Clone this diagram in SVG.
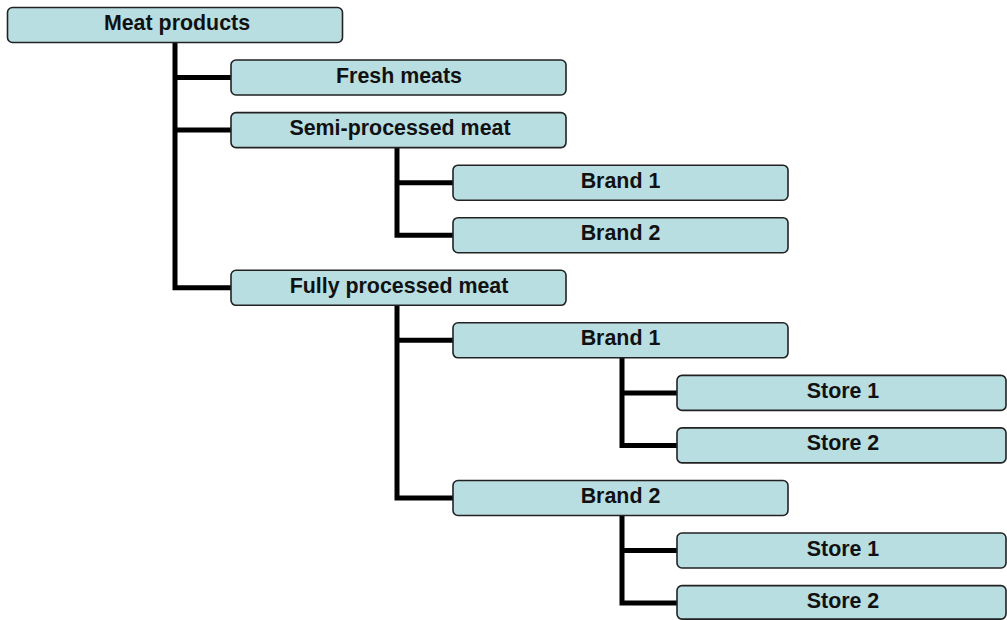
<svg xmlns="http://www.w3.org/2000/svg" width="1007" height="620" viewBox="0 0 1007 620">
<style>
.box{fill:#b8dee2;stroke:#222;stroke-width:1.6}
.lbl{font-family:"Liberation Sans",Arial,sans-serif;font-weight:bold;font-size:21.4px;fill:#111;text-anchor:middle}
.conn{fill:none;stroke:#000;stroke-width:5;stroke-linejoin:miter;stroke-linecap:butt}
</style>
<rect width="1007" height="620" fill="#fff"/>
<g id="connectors">
<path class="conn" d="M175,43 V287.8 H231 M175,77.5 H231 M175,130.1 H231"/>
<path class="conn" d="M397,148 V235.2 H453 M397,182.7 H453"/>
<path class="conn" d="M397,305.5 V498 H453 M397,340.3 H453"/>
<path class="conn" d="M622,358 V445.4 H677 M622,392.9 H677"/>
<path class="conn" d="M622,516 V603 H677 M622,550.5 H677"/>
</g>
<g id="n0"><rect class="box" x="7.5" y="7.5" width="335" height="35" rx="5"/><text class="lbl" x="177" y="30">Meat products</text></g>
<g id="n1"><rect class="box" x="231" y="60" width="335" height="35" rx="5"/><text class="lbl" x="399" y="82.5">Fresh meats</text></g>
<g id="n2"><rect class="box" x="231" y="112.6" width="335" height="35" rx="5"/><text class="lbl" x="400" y="135.1">Semi-processed meat</text></g>
<g id="n3"><rect class="box" x="453" y="165.2" width="335" height="35" rx="5"/><text class="lbl" x="620.5" y="187.7">Brand 1</text></g>
<g id="n4"><rect class="box" x="453" y="217.7" width="335" height="35" rx="5"/><text class="lbl" x="620.5" y="240.2">Brand 2</text></g>
<g id="n5"><rect class="box" x="231" y="270.3" width="335" height="35" rx="5"/><text class="lbl" x="399" y="292.8">Fully processed meat</text></g>
<g id="n6"><rect class="box" x="453" y="322.8" width="335" height="35" rx="5"/><text class="lbl" x="620.5" y="345.3">Brand 1</text></g>
<g id="n7"><rect class="box" x="677" y="375.4" width="329" height="35" rx="5"/><text class="lbl" x="843" y="397.9">Store 1</text></g>
<g id="n8"><rect class="box" x="677" y="427.9" width="329" height="35" rx="5"/><text class="lbl" x="843" y="450.4">Store 2</text></g>
<g id="n9"><rect class="box" x="453" y="480.5" width="335" height="35" rx="5"/><text class="lbl" x="620.5" y="503">Brand 2</text></g>
<g id="n10"><rect class="box" x="677" y="533" width="329" height="35" rx="5"/><text class="lbl" x="843" y="555.5">Store 1</text></g>
<g id="n11"><rect class="box" x="677" y="585.6" width="329" height="33.5" rx="5"/><text class="lbl" x="843" y="608.1">Store 2</text></g>
</svg>
